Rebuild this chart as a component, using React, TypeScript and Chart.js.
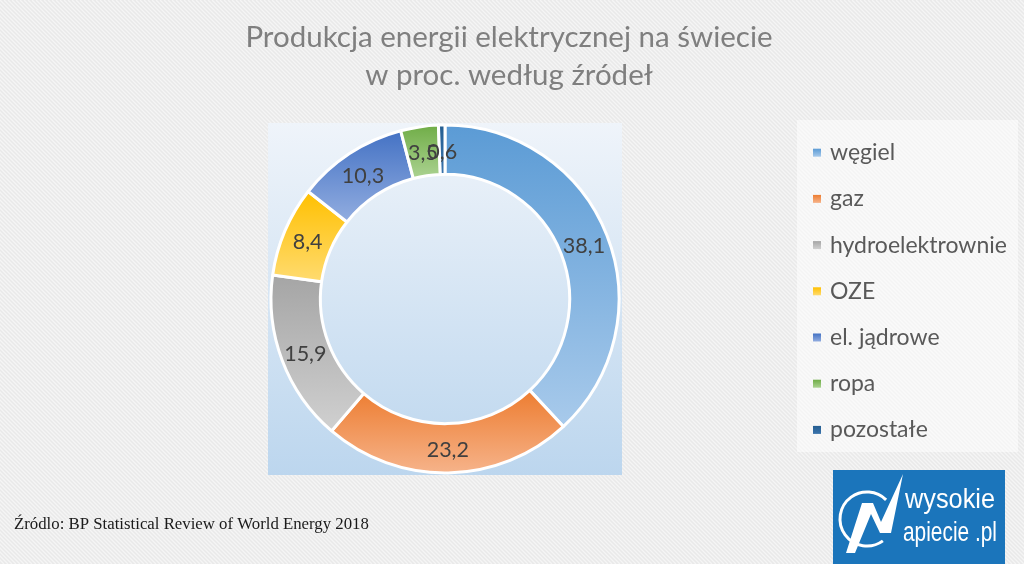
import React, { useEffect, useRef } from 'react';
import { Chart, registerables } from 'chart.js';

Chart.register(...registerables);

// ---------- data ----------
const categories = ['węgiel', 'gaz', 'hydroelektrownie', 'OZE', 'el. jądrowe', 'ropa', 'pozostałe'];
const shares = [38.1, 23.2, 15.9, 8.4, 10.3, 3.5, 0.6];
const colorsTop = ['#5b9bd5', '#ed7d31', '#a5a5a5', '#ffc000', '#4472c4', '#70ad47', '#255e91'];
const colorsBottom = ['#a8caeb', '#f6b38a', '#d0d0d0', '#ffdb70', '#92ade0', '#abd291', '#3b74ac'];
const titleLines = ['Produkcja energii elektrycznej na świecie', 'w proc. według źródeł'];
const sourceText = 'Źródlo: BP Statistical Review of World Energy 2018';
const logoLines = ['wysokie', 'apiecie .pl'];

// ---------- layout constants ----------
const W = 1024;
const H = 564;
const R_OUT = 174;
const R_IN = 125;
const PLOT = { left: 268, top: 123, right: 622, bottom: 475 };
const LEGEND = { left: 797, top: 120, right: 1018, bottom: 452, firstY: 152.7, step: 46.2 };

const FONT_SANS = 'Lato, "Open Sans", "Noto Sans", sans-serif';

function fmt(v: number): string {
  return v.toFixed(1).replace('.', ',');
}

function segmentGradient(context: any) {
  const i: number = context.dataIndex ?? 0;
  const chart = context.chart;
  const area = chart.chartArea;
  if (!area) return colorsTop[i];
  const total = shares.reduce((a, b) => a + b, 0);
  let cum = 0;
  for (let k = 0; k < i; k++) cum += shares[k];
  const a0 = -Math.PI / 2 + (cum / total) * Math.PI * 2;
  const a1 = a0 + (shares[i] / total) * Math.PI * 2;
  const cy = (area.top + area.bottom) / 2;
  let top = Infinity;
  let bottom = -Infinity;
  for (let s = 0; s <= 60; s++) {
    const a = a0 + ((a1 - a0) * s) / 60;
    for (const r of [R_IN, R_OUT]) {
      const y = cy + r * Math.sin(a);
      top = Math.min(top, y);
      bottom = Math.max(bottom, y);
    }
  }
  if (bottom - top < 1) bottom = top + 1;
  const g = chart.ctx.createLinearGradient(0, top, 0, bottom);
  g.addColorStop(0, colorsTop[i]);
  g.addColorStop(1, colorsBottom[i]);
  return g;
}

function drawHatch(ctx: CanvasRenderingContext2D, x: number, y: number, w: number, h: number, color: string) {
  ctx.save();
  ctx.beginPath();
  ctx.rect(x, y, w, h);
  ctx.clip();
  ctx.strokeStyle = color;
  ctx.lineWidth = 1.4;
  ctx.beginPath();
  for (let d = -h; d < w + h; d += 4) {
    ctx.moveTo(x + d, y);
    ctx.lineTo(x + d + h, y + h);
  }
  ctx.stroke();
  ctx.restore();
}

const backgroundPlugin = {
  id: 'pageBackground',
  beforeDraw(chart: any) {
    const ctx: CanvasRenderingContext2D = chart.ctx;
    ctx.save();
    // page
    ctx.fillStyle = '#e9e9e9';
    ctx.fillRect(0, 0, W, H);
    drawHatch(ctx, 0, 0, W, H, 'rgba(255,255,255,0.55)');

    // plot area
    const pg = ctx.createLinearGradient(0, PLOT.top, 0, PLOT.bottom);
    pg.addColorStop(0, '#eff4fa');
    pg.addColorStop(1, '#bcd6ee');
    ctx.fillStyle = pg;
    ctx.fillRect(PLOT.left, PLOT.top, PLOT.right - PLOT.left, PLOT.bottom - PLOT.top);

    // legend box
    ctx.fillStyle = 'rgba(255,255,255,0.5)';
    ctx.fillRect(LEGEND.left, LEGEND.top, LEGEND.right - LEGEND.left, LEGEND.bottom - LEGEND.top);

    // title
    ctx.fillStyle = '#7f7f7f';
    ctx.textAlign = 'center';
    ctx.textBaseline = 'alphabetic';
    ctx.font = `400 29.5px ${FONT_SANS}`;
    ctx.fillText(titleLines[0], 509, 47);
    ctx.fillText(titleLines[1], 509, 85);

    // legend entries
    ctx.textAlign = 'left';
    ctx.font = `400 23px ${FONT_SANS}`;
    categories.forEach((name, i) => {
      const cy = LEGEND.firstY + i * LEGEND.step;
      const mg = ctx.createLinearGradient(0, cy - 4, 0, cy + 4);
      mg.addColorStop(0, colorsTop[i]);
      mg.addColorStop(1, colorsBottom[i]);
      ctx.fillStyle = mg;
      ctx.fillRect(813, cy - 4, 8, 8);
      ctx.fillStyle = '#595959';
      ctx.fillText(name, 830, cy + 7.5);
    });

    // source
    ctx.fillStyle = '#1a1a1a';
    ctx.font = '400 16.8px "Liberation Serif", "DejaVu Serif", serif';
    ctx.fillText(sourceText, 14, 529);

    // logo
    ctx.fillStyle = '#1b75bb';
    ctx.fillRect(833, 470, 172, 94);
    ctx.strokeStyle = '#ffffff';
    ctx.lineWidth = 3;
    ctx.beginPath();
    ctx.arc(867, 519, 27, Math.PI * 0.3, Math.PI * 1.75);
    ctx.stroke();
    ctx.fillStyle = '#ffffff';
    ctx.beginPath();
    ctx.moveTo(846, 553);
    ctx.lineTo(862, 503);
    ctx.lineTo(873, 503);
    ctx.lineTo(881, 522);
    ctx.lineTo(903, 474);
    ctx.lineTo(891, 533);
    ctx.lineTo(880, 533);
    ctx.lineTo(871, 514);
    ctx.lineTo(855, 553);
    ctx.closePath();
    ctx.fill();
    ctx.font = '400 27px "Liberation Sans", Arial, sans-serif';
    ctx.fillText(logoLines[0], 905, 508, 90);
    ctx.fillText(logoLines[1], 903, 541, 94);
    ctx.restore();
  },
};

const labelPlugin = {
  id: 'sliceLabels',
  afterDatasetsDraw(chart: any) {
    const ctx: CanvasRenderingContext2D = chart.ctx;
    const meta = chart.getDatasetMeta(0);
    ctx.save();
    ctx.fillStyle = '#404040';
    ctx.font = `400 21.5px ${FONT_SANS}`;
    ctx.textAlign = 'center';
    ctx.textBaseline = 'middle';
    meta.data.forEach((arc: any, i: number) => {
      const p = arc.tooltipPosition();
      ctx.fillText(fmt(shares[i]), p.x, p.y + 2);
    });
    ctx.restore();
  },
};

export default function App() {
  const ref = useRef<HTMLCanvasElement>(null);
  useEffect(() => {
    if (!ref.current) return;
    const chart = new Chart(ref.current, {
      type: 'doughnut',
      data: {
        labels: categories,
        datasets: [
          {
            data: shares,
            backgroundColor: segmentGradient as any,
            borderColor: '#ffffff',
            borderWidth: 3,
            radius: R_OUT,
            cutout: R_IN,
          } as any,
        ],
      },
      options: {
        responsive: false,
        animation: false,
        devicePixelRatio: 1,
        events: [],
        layout: {
          padding: {
            left: PLOT.left,
            top: PLOT.top,
            right: W - PLOT.right,
            bottom: H - PLOT.bottom,
          },
        },
        plugins: {
          legend: { display: false },
          title: { display: false },
          tooltip: { enabled: false },
        },
      } as any,
      plugins: [backgroundPlugin, labelPlugin],
    });
    return () => chart.destroy();
  }, []);
  return (
    <div style={{ position: 'fixed', left: 0, top: 0, width: W, height: H }}>
      <canvas ref={ref} width={W} height={H} style={{ display: 'block' }} />
    </div>
  );
}
